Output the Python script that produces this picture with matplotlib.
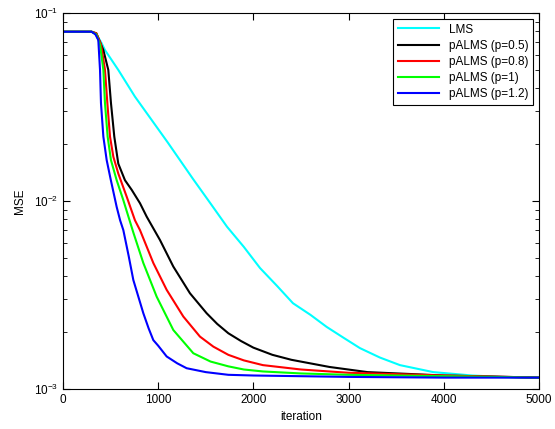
import numpy as np
import matplotlib
matplotlib.use("Agg")
import matplotlib.pyplot as plt
from matplotlib.ticker import LogLocator, NullFormatter

plt.rcParams['font.family'] = ['Liberation Sans', 'DejaVu Sans']

# values (iteration, MSE) per curve
it_lms = [0, 300, 350, 400, 441, 581, 756, 931, 1100, 1366, 1550, 1723, 1900, 2070, 2250, 2416,
          2600, 2770, 2950, 3120, 3330, 3540, 3890, 4300, 4600, 5000]
mse_lms = [0.0795, 0.0795, 0.077, 0.070, 0.0635, 0.0498, 0.0359, 0.027, 0.0205, 0.0131,
           0.0097, 0.0073, 0.0057, 0.0044, 0.00353, 0.00286, 0.00248, 0.00214, 0.00187,
           0.00165, 0.00147, 0.00134, 0.00123, 0.00118, 0.00116, 0.00115]

it_p05 = [0, 300, 350, 424, 476, 504, 539, 581, 651, 722, 809, 879, 1019, 1159, 1334, 1509,
          1620, 1737, 1870, 2000, 2200, 2400, 2800, 3200, 4000, 5000]
mse_p05 = [0.0795, 0.0795, 0.078, 0.0635, 0.0498, 0.0332, 0.022, 0.0158, 0.0129, 0.01146,
           0.00973, 0.00826, 0.0062, 0.00448, 0.00323, 0.00253, 0.00222, 0.00198, 0.0018,
           0.00166, 0.00152, 0.00143, 0.00131, 0.00123, 0.00118, 0.00115]

it_p08 = [0, 300, 350, 400, 441, 466, 494, 529, 581, 669, 756, 809, 949, 1089, 1264, 1439,
          1580, 1737, 1900, 2100, 2500, 3000, 4000, 5000]
mse_p08 = [0.0795, 0.0795, 0.078, 0.068, 0.0498, 0.0332, 0.022, 0.0172, 0.0140, 0.01055,
           0.0079, 0.0070, 0.00468, 0.00337, 0.00243, 0.0019, 0.00168, 0.00152, 0.00142,
           0.00134, 0.00127, 0.00122, 0.00118, 0.00115]

it_p1 = [0, 300, 350, 389, 424, 441, 469, 504, 564, 634, 686, 739, 844, 984, 1159, 1369,
         1550, 1737, 1900, 2100, 2500, 3000, 4000, 5000]
mse_p1 = [0.0795, 0.0795, 0.077, 0.068, 0.0498, 0.0332, 0.022, 0.0165, 0.0129, 0.0101,
          0.0083, 0.0068, 0.00468, 0.0031, 0.00206, 0.00155, 0.0014, 0.00132, 0.00127,
          0.00124, 0.00121, 0.00119, 0.00117, 0.00115]

it_p12 = [0, 300, 340, 371, 389, 399, 424, 459, 500, 564, 600, 634, 690, 739, 800, 844, 900,
          949, 1000, 1089, 1200, 1299, 1500, 1737, 2000, 2500, 3000, 4000, 5000]
mse_p12 = [0.0795, 0.0795, 0.077, 0.0718, 0.0498, 0.0332, 0.022, 0.0165, 0.0131, 0.0093,
           0.0079, 0.0070, 0.0051, 0.0038, 0.0030, 0.00253, 0.0021, 0.00182, 0.0017, 0.00149,
           0.00137, 0.00129, 0.00123, 0.00119, 0.00118, 0.00117, 0.00116, 0.00115, 0.00115]

labels = ["LMS", "pALMS (p=0.5)", "pALMS (p=0.8)", "pALMS (p=1)", "pALMS (p=1.2)"]
colors = ["#00ffff", "black", "red", "#00ff00", "blue"]

fig = plt.figure(figsize=(5.55, 4.29), dpi=100)
ax = fig.add_axes([0.1135, 0.0932, 0.8575, 0.8765])

series = [(it_lms, mse_lms), (it_p05, mse_p05), (it_p08, mse_p08),
          (it_p1, mse_p1), (it_p12, mse_p12)]
for (x, y), lab, c in zip(series, labels, colors):
    ax.plot(x, y, color=c, lw=1.5, label=lab)

ax.set_yscale("log")
ax.set_xlim(0, 5000)
ax.set_ylim(1e-3, 1e-1)
ax.set_xticks([0, 1000, 2000, 3000, 4000, 5000])
ax.yaxis.set_minor_locator(LogLocator(base=10, subs=np.arange(2, 10)))
ax.yaxis.set_minor_formatter(NullFormatter())
ax.tick_params(which="both", direction="in", top=True, right=True, labelsize=8.5)
ax.tick_params(which="major", length=5)
ax.tick_params(which="minor", length=3)
ax.set_xlabel("iteration", fontsize=8.5, labelpad=4)
ax.set_ylabel("MSE", fontsize=8.5, labelpad=6)

leg = ax.legend(loc="upper right", fontsize=8.5, fancybox=False, framealpha=1,
                edgecolor="black", handlelength=3.5, labelspacing=0.35,
                borderaxespad=0.5)
leg.get_frame().set_linewidth(0.8)

fig.savefig("out.png", dpi=100)
